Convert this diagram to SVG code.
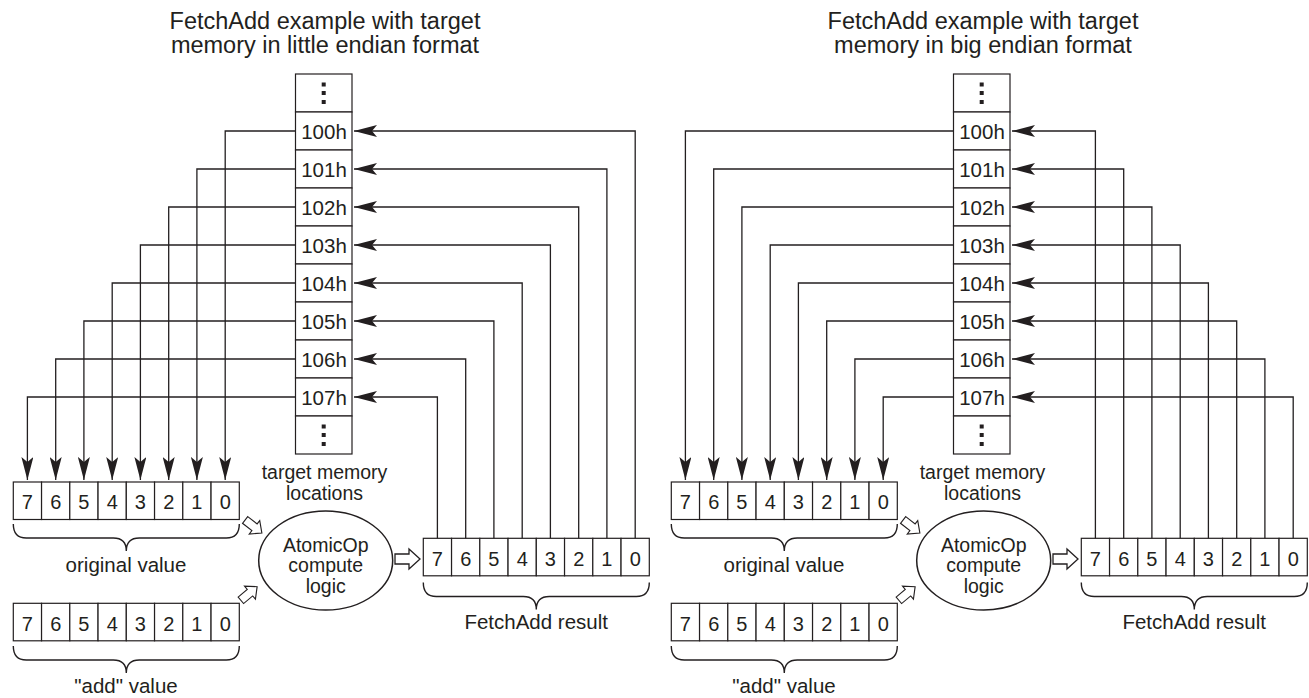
<svg xmlns="http://www.w3.org/2000/svg" width="1309" height="698" viewBox="0 0 1309 698">
<style>
text{font-family:"Liberation Sans",Arial,sans-serif;fill:#231f20;text-anchor:middle}
.t{font-size:23.5px}
.l{font-size:20.5px}
.e{font-size:19.5px}
.d{font-size:20px}
.box{fill:#fff;stroke:#231f20;stroke-width:1.2}
.con{fill:none;stroke:#231f20;stroke-width:1.3}
.br{fill:none;stroke:#231f20;stroke-width:1.4}
.ha{fill:#fff;stroke:#231f20;stroke-width:1.3}
.dot{fill:#231f20}
</style>
<defs>
<marker id="ah" viewBox="0 0 24 12" refX="23" refY="6" markerWidth="24" markerHeight="12" orient="auto" markerUnits="userSpaceOnUse">
<path d="M0,0 L23,6 L0,12 L5,6 Z" fill="#231f20"/>
</marker>
<path id="harrow" d="M-12.5,-5 H1.5 V-10 L12.5,0 L1.5,10 V5 H-12.5 Z"/>
<g id="bytes">
<rect class="box" x="0" y="0" width="28.25" height="37.5"/>
<rect class="box" x="28.25" y="0" width="28.25" height="37.5"/>
<rect class="box" x="56.5" y="0" width="28.25" height="37.5"/>
<rect class="box" x="84.75" y="0" width="28.25" height="37.5"/>
<rect class="box" x="113" y="0" width="28.25" height="37.5"/>
<rect class="box" x="141.25" y="0" width="28.25" height="37.5"/>
<rect class="box" x="169.5" y="0" width="28.25" height="37.5"/>
<rect class="box" x="197.75" y="0" width="28.25" height="37.5"/>
<text class="d" x="14.1" y="27.3">7</text>
<text class="d" x="42.4" y="27.3">6</text>
<text class="d" x="70.6" y="27.3">5</text>
<text class="d" x="98.9" y="27.3">4</text>
<text class="d" x="127.1" y="27.3">3</text>
<text class="d" x="155.4" y="27.3">2</text>
<text class="d" x="183.6" y="27.3">1</text>
<text class="d" x="211.9" y="27.3">0</text>
</g>
<path id="brace" class="br" d="M0,0 Q0,14 13,14 L100,14 Q113,14 113,27 Q113,14 126,14 L213,14 Q226,14 226,0"/>
</defs>

<!-- ============ Little endian ============ -->
<g id="title-le">
<text class="t" x="325" y="29.3">FetchAdd example with target</text>
<text class="t" x="325" y="52.7">memory in little endian format</text>
</g>
<g id="mem-le">
<rect class="box" x="295.5" y="74" width="56.5" height="38"/>
<rect class="box" x="295.5" y="112" width="56.5" height="38"/>
<rect class="box" x="295.5" y="150" width="56.5" height="38"/>
<rect class="box" x="295.5" y="188" width="56.5" height="38"/>
<rect class="box" x="295.5" y="226" width="56.5" height="38"/>
<rect class="box" x="295.5" y="264" width="56.5" height="38"/>
<rect class="box" x="295.5" y="302" width="56.5" height="38"/>
<rect class="box" x="295.5" y="340" width="56.5" height="38"/>
<rect class="box" x="295.5" y="378" width="56.5" height="38"/>
<rect class="box" x="295.5" y="416" width="56.5" height="38"/>
<rect class="dot" x="321.7" y="82.5" width="4" height="4"/>
<rect class="dot" x="321.7" y="91" width="4" height="4"/>
<rect class="dot" x="321.7" y="100" width="4" height="4"/>
<rect class="dot" x="321.7" y="424.5" width="4" height="4"/>
<rect class="dot" x="321.7" y="433" width="4" height="4"/>
<rect class="dot" x="321.7" y="442" width="4" height="4"/>
<text class="l" x="324" y="139">100h</text>
<text class="l" x="324" y="177">101h</text>
<text class="l" x="324" y="215">102h</text>
<text class="l" x="324" y="253">103h</text>
<text class="l" x="324" y="291">104h</text>
<text class="l" x="324" y="329">105h</text>
<text class="l" x="324" y="367">106h</text>
<text class="l" x="324" y="405">107h</text>
<text class="e" x="324.5" y="479">target memory</text>
<text class="e" x="324.5" y="500">locations</text>
</g>
<g id="orig-le">
<use href="#bytes" x="13.3" y="482"/>
<use href="#brace" x="13.3" y="524"/>
<text class="l" x="126" y="571.7">original value</text>
</g>
<g id="add-le">
<use href="#bytes" x="13.3" y="603.3"/>
<use href="#brace" x="13.3" y="646"/>
<text class="l" x="126" y="693">"add" value</text>
</g>
<g id="op-le">
<ellipse cx="325.7" cy="560.5" rx="67" ry="49.5" fill="#fff" stroke="#231f20" stroke-width="1.5"/>
<text class="e" x="325.7" y="551.5">AtomicOp</text>
<text class="e" x="325.7" y="572">compute</text>
<text class="e" x="325.7" y="592.5">logic</text>
</g>
<g id="res-le">
<use href="#bytes" x="423.3" y="538.3"/>
<use href="#brace" x="423.3" y="582.5"/>
<text class="l" x="536.2" y="629.3">FetchAdd result</text>
</g>

<!-- ============ Big endian ============ -->
<g id="title-be">
<text class="t" x="983" y="29.3">FetchAdd example with target</text>
<text class="t" x="983" y="52.7">memory in big endian format</text>
</g>
<g id="mem-be" transform="translate(658,0)">
<rect class="box" x="295.5" y="74" width="56.5" height="38"/>
<rect class="box" x="295.5" y="112" width="56.5" height="38"/>
<rect class="box" x="295.5" y="150" width="56.5" height="38"/>
<rect class="box" x="295.5" y="188" width="56.5" height="38"/>
<rect class="box" x="295.5" y="226" width="56.5" height="38"/>
<rect class="box" x="295.5" y="264" width="56.5" height="38"/>
<rect class="box" x="295.5" y="302" width="56.5" height="38"/>
<rect class="box" x="295.5" y="340" width="56.5" height="38"/>
<rect class="box" x="295.5" y="378" width="56.5" height="38"/>
<rect class="box" x="295.5" y="416" width="56.5" height="38"/>
<rect class="dot" x="321.7" y="82.5" width="4" height="4"/>
<rect class="dot" x="321.7" y="91" width="4" height="4"/>
<rect class="dot" x="321.7" y="100" width="4" height="4"/>
<rect class="dot" x="321.7" y="424.5" width="4" height="4"/>
<rect class="dot" x="321.7" y="433" width="4" height="4"/>
<rect class="dot" x="321.7" y="442" width="4" height="4"/>
<text class="l" x="324" y="139">100h</text>
<text class="l" x="324" y="177">101h</text>
<text class="l" x="324" y="215">102h</text>
<text class="l" x="324" y="253">103h</text>
<text class="l" x="324" y="291">104h</text>
<text class="l" x="324" y="329">105h</text>
<text class="l" x="324" y="367">106h</text>
<text class="l" x="324" y="405">107h</text>
<text class="e" x="324.5" y="479">target memory</text>
<text class="e" x="324.5" y="500">locations</text>
</g>
<g id="orig-be" transform="translate(658,0)">
<use href="#bytes" x="13.3" y="482"/>
<use href="#brace" x="13.3" y="524"/>
<text class="l" x="126" y="571.7">original value</text>
</g>
<g id="add-be" transform="translate(658,0)">
<use href="#bytes" x="13.3" y="603.3"/>
<use href="#brace" x="13.3" y="646"/>
<text class="l" x="126" y="693">"add" value</text>
</g>
<g id="op-be" transform="translate(658,0)">
<ellipse cx="325.7" cy="560.5" rx="67" ry="49.5" fill="#fff" stroke="#231f20" stroke-width="1.5"/>
<text class="e" x="325.7" y="551.5">AtomicOp</text>
<text class="e" x="325.7" y="572">compute</text>
<text class="e" x="325.7" y="592.5">logic</text>
</g>
<g id="res-be" transform="translate(658,0)">
<use href="#bytes" x="423.3" y="538.3"/>
<use href="#brace" x="423.3" y="582.5"/>
<text class="l" x="536.2" y="629.3">FetchAdd result</text>
</g>

<!-- ============ Connectors ============ -->
<g id="connectors">
<g class="con" marker-end="url(#ah)">
<path d="M295.5,131 H225.2 V480"/>
<path d="M295.5,169 H196.9 V480"/>
<path d="M295.5,207 H168.7 V480"/>
<path d="M295.5,245 H140.4 V480"/>
<path d="M295.5,283 H112.2 V480"/>
<path d="M295.5,321 H83.9 V480"/>
<path d="M295.5,359 H55.7 V480"/>
<path d="M295.5,397 H27.4 V480"/>
<path d="M635.2,538.3 V131 H354"/>
<path d="M606.9,538.3 V169 H354"/>
<path d="M578.7,538.3 V207 H354"/>
<path d="M550.4,538.3 V245 H354"/>
<path d="M522.2,538.3 V283 H354"/>
<path d="M493.9,538.3 V321 H354"/>
<path d="M465.7,538.3 V359 H354"/>
<path d="M437.4,538.3 V397 H354"/>
<path d="M953.5,131 H685.4 V480"/>
<path d="M953.5,169 H713.7 V480"/>
<path d="M953.5,207 H741.9 V480"/>
<path d="M953.5,245 H770.2 V480"/>
<path d="M953.5,283 H798.4 V480"/>
<path d="M953.5,321 H826.7 V480"/>
<path d="M953.5,359 H854.9 V480"/>
<path d="M953.5,397 H883.2 V480"/>
<path d="M1095.4,538.3 V131 H1012"/>
<path d="M1123.7,538.3 V169 H1012"/>
<path d="M1151.9,538.3 V207 H1012"/>
<path d="M1180.2,538.3 V245 H1012"/>
<path d="M1208.4,538.3 V283 H1012"/>
<path d="M1236.7,538.3 V321 H1012"/>
<path d="M1264.9,538.3 V359 H1012"/>
<path d="M1293.2,538.3 V397 H1012"/>
</g>
<g class="ha">
<use href="#harrow" transform="translate(253.5,526.5) rotate(38) scale(0.85)"/>
<use href="#harrow" transform="translate(249,593.5) rotate(-40) scale(0.85)"/>
<use href="#harrow" transform="translate(407.5,559)"/>
<use href="#harrow" transform="translate(911.5,526.5) rotate(38) scale(0.85)"/>
<use href="#harrow" transform="translate(907,593.5) rotate(-40) scale(0.85)"/>
<use href="#harrow" transform="translate(1065.5,559)"/>
</g>
</g>
</svg>
